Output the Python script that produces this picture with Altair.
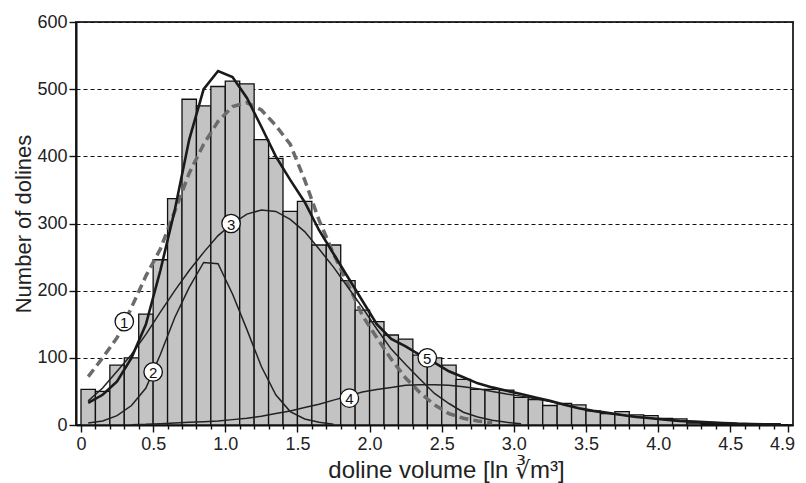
import altair as alt
import pandas as pd

FONT = "Liberation Sans"

# ---- histogram (bins of 0.1 from 0 to 4.9) ----
bin_width = 0.1
counts = [53, 50, 89, 100, 165, 246, 337, 485, 475, 504,
          512, 508, 425, 397, 318, 333, 268, 268, 215, 171,
          154, 134, 128, 104, 100, 89, 68, 53, 53, 52,
          41, 38, 29, 32, 30, 21, 17, 20, 15, 14,
          10, 9, 3, 2, 2, 1, 1, 1, 0]

# ---- fitted curves, values at bin centres ----
curve1 = [72, 100, 130, 175, 222, 262, 318, 375, 418, 452,
          474, 480, 469, 446, 418, 365, 305, 255, 210, 163,
          130, 98, 70, 48, 30, 17, 10, 6, 3]                      # dashed (1)
curve2 = [3, 6, 14, 29, 55, 105, 160, 205, 242, 240,
          195, 142, 87, 45, 20, 9, 4, 1]                          # (2)
curve3 = [36, 55, 80, 105, 135, 168, 200, 230, 257, 282,
          300, 314, 320, 318, 306, 288, 262, 235, 205, 175,
          143, 113, 90, 68, 47, 32, 19, 12, 7, 4, 2]              # (3)
curve4_first_bin = 3
curve4 = [0.5, 1, 2, 3, 4, 5, 6, 8, 10, 13,
          17, 21, 26, 31, 37, 43, 49, 53, 56, 59,
          60, 60, 59, 57, 54, 50, 46, 43, 39, 35,
          30, 25, 21, 18, 15, 12, 10, 8, 6, 5,
          4, 3, 2, 1.5, 1, 1]                                     # (4)
curve5 = [33, 45, 65, 100, 150, 230, 320, 425, 500, 527,
          518, 487, 444, 400, 365, 332, 290, 255, 220, 185,
          150, 128, 117, 104, 93, 80, 71, 62, 56, 51,
          46, 41, 36, 30, 25, 21, 18, 15, 12, 10,
          8, 6, 5, 4, 3, 2, 1.5, 1, 1]                             # sum (5)

# ---- circled curve labels ----
label_ids = ["1", "2", "3", "4", "5"]
label_x = [0.30, 0.50, 1.04, 1.86, 2.40]
label_y = [154, 79, 300, 40, 100]

# ---- axes ----
x_domain = [0, 4.9]
x_minor_ticks = [round(i * bin_width, 1) for i in range(50)]
y_ticks = [0, 100, 200, 300, 400, 500, 600]
x_title = "doline volume [ln \u221bm\u00b3]"
y_title = "Number of dolines"

# ---- tables ----
bars = pd.DataFrame({
    "start": [round(i * bin_width, 2) for i in range(len(counts))],
    "end": [round((i + 1) * bin_width, 2) for i in range(len(counts))],
    "count": counts,
})


def centres(values, first=0):
    return [round((first + i) * bin_width + bin_width / 2, 3) for i in range(len(values))]


df1 = pd.DataFrame({"x": centres(curve1), "y": curve1})
thin = pd.concat([
    pd.DataFrame({"x": centres(curve2), "y": curve2, "c": "2"}),
    pd.DataFrame({"x": centres(curve3), "y": curve3, "c": "3"}),
    pd.DataFrame({"x": centres(curve4, curve4_first_bin), "y": curve4, "c": "4"}),
])
df5 = pd.DataFrame({"x": centres(curve5), "y": curve5})
labels = pd.DataFrame({"id": label_ids, "x": label_x, "y": label_y})

xscale = alt.Scale(domain=x_domain, nice=False, zero=False)
yscale = alt.Scale(domain=[0, 600], nice=False)

major_test = "abs(datum.value*2 - round(datum.value*2)) < 0.001 || datum.value > 4.85"

x_axis = alt.Axis(
    values=x_minor_ticks,
    tickSize={"condition": {"test": major_test, "value": 7}, "value": 4},
    labelExpr="(" + major_test + ") ? (datum.value == 0 ? '0' : format(datum.value, '.1f')) : ''",
    labelOffset={"condition": {"test": "datum.value > 4.85", "value": -6}, "value": 0},
    labelOverlap=False, labelFlush=False, labelPadding=3,
    labelFont=FONT, labelFontSize=18, labelColor="#222",
    domainColor="#111", domainWidth=2, tickColor="#111", tickWidth=1.4,
    grid=False,
    title=x_title, titleFont=FONT, titleFontSize=24, titleFontWeight="normal",
    titleColor="#222", titleX=370, titleY=52, titleAlign="center",
    titleBaseline="alphabetic",
)

y_axis = alt.Axis(
    values=y_ticks, tickSize=7, labelPadding=2,
    labelFont=FONT, labelFontSize=18, labelColor="#222",
    domainColor="#111", domainWidth=2, tickColor="#111", tickWidth=1.4,
    grid=True, gridColor="#111", gridDash=[4, 3], gridWidth=1,
    title=y_title, titleFont=FONT, titleFontSize=22, titleFontWeight="normal",
    titleColor="#222", titleAngle=270, titleX=-46, titleY=201.5,
    titleAlign="center", titleBaseline="alphabetic",
)


def X(field):
    return alt.X(field, scale=xscale, axis=x_axis)


def Y(field):
    return alt.Y(field, scale=yscale, axis=y_axis)


bar_layer = alt.Chart(bars).mark_bar(
    fill="#c3c3c3", stroke="#111", strokeWidth=1.3, orient="vertical"
).encode(
    x=X("start:Q"),
    x2="end:Q",
    y=Y("count:Q"),
    y2=alt.datum(0),
)

dashed_layer = alt.Chart(df1).mark_line(
    color="#6b6b6b", strokeWidth=3.5, strokeDash=[9, 5]
).encode(x=X("x:Q"), y=Y("y:Q"))

thin_layer = alt.Chart(thin).mark_line(color="#222", strokeWidth=1.5).encode(
    x=X("x:Q"), y=Y("y:Q"), detail="c:N"
)

sum_layer = alt.Chart(df5).mark_line(color="#1a1a1a", strokeWidth=2.6).encode(
    x=X("x:Q"), y=Y("y:Q")
)

circle_layer = alt.Chart(labels).mark_circle(
    size=340, color="white", stroke="#111", strokeWidth=1.3, opacity=1
).encode(x=X("x:Q"), y=Y("y:Q"))

text_layer = alt.Chart(labels).mark_text(
    font=FONT, fontSize=15, color="#111", align="center", baseline="middle", dy=1
).encode(x=X("x:Q"), y=Y("y:Q"), text="id:N")

chart = alt.layer(
    bar_layer, dashed_layer, thin_layer, sum_layer, circle_layer, text_layer
).properties(
    width=717, height=403,
    autosize=alt.AutoSizeParams(type="none"),
    padding={"left": 68, "top": 14, "right": 5, "bottom": 58},
    background="white",
).configure_view(stroke="#333", strokeWidth=2)

chart.save("out.html", embed_options={"renderer": "svg", "actions": False})
